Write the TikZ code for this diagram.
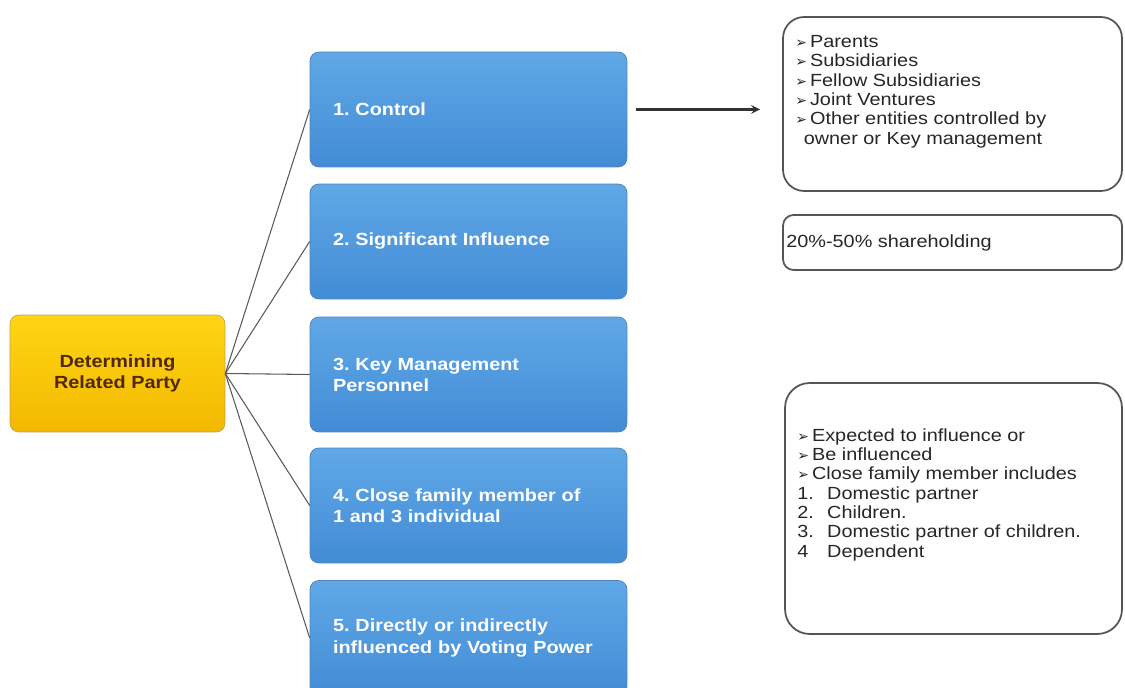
\documentclass[tikz,border=0pt]{standalone}
\usepackage{fontspec}
\setmainfont{Liberation Sans}[FakeStretch=1.13]
\newfontfamily\dingfont{DejaVu Sans}
\newcommand\arrbul{{\dingfont\footnotesize ➢}\,}
\newcommand\numitem[1]{\makebox[1.7em][l]{#1}}
\frenchspacing
\definecolor{coreline}{RGB}{196,160,80}
\definecolor{coretop}{RGB}{255,214,20}
\definecolor{corebot}{RGB}{242,184,0}
\definecolor{coretext}{RGB}{80,40,10}
\definecolor{typetop}{RGB}{96,168,230}
\definecolor{typebot}{RGB}{66,140,214}
\definecolor{typeline}{RGB}{80,130,185}
\definecolor{listline}{RGB}{85,85,85}

\begin{document}
\begin{tikzpicture}[x=0.02cm,y=-0.02cm,>=stealth,
    core/.style={draw=coreline,rounded corners=5pt,top color=coretop,bottom color=corebot,
      minimum width=4.3cm,minimum height=2.34cm,align=center,font=\bfseries,text=coretext},
    type/.style={draw=typeline,rounded corners=5pt,top color=typetop,bottom color=typebot,
      minimum width=6.34cm,minimum height=2.3cm,inner xsep=0.46cm,text width=5.42cm,
      align=left,font=\bfseries,text=white},
    listbox/.style={draw=listline,line width=1pt,fill=white,rounded corners=12pt},
    listtext/.style={anchor=north west,align=left,inner sep=0pt,text=black!85},
    link/.style={draw=black!65,line width=0.6pt},
    every node/.append style={font=\fontsize{10}{11}\selectfont}]
  \useasboundingbox (0,0) rectangle (1125,688);

  \node[core] (core) at (117.5,373.5) {Determining\\Related Party};

  \node[type] (t1) at (468.5,109.5) {1. Control};
  \node[type] (t2) at (468.5,241.5) {2. Significant Influence};
  \node[type] (t3) at (468.5,374.5) {3. Key Management\\Personnel};
  \node[type] (t4) at (468.5,505.5) {4. Close family member of\\1 and 3 individual};
  \node[type] (t5) at (468.5,638) {5. Directly or indirectly\\influenced by Voting Power};

  \foreach \i in {1,...,5}
    \draw[link] (core.east) -- (t\i.west);

  \node[listbox,minimum width=6.78cm,minimum height=3.48cm] (ctrlBox) at (952.5,104) {};
  \node[listtext] (ctrlList) at (795,35) {\arrbul Parents\\ \arrbul Subsidiaries\\ \arrbul Fellow  Subsidiaries\\
    \arrbul Joint Ventures\\ \arrbul Other entities controlled by\\ \ \,owner or Key management};

  \node[listbox,rounded corners=6pt,minimum width=6.78cm,minimum height=1.1cm] (sigBox) at (952.5,242.5) {};
  \node[listtext,anchor=west] (sigList) at (786,243) {20\%-50\% shareholding};

  \node[listbox,rounded corners=14pt,minimum width=6.74cm,minimum height=5.02cm] (famBox) at (953.5,508.5) {};
  \node[listtext] (famList) at (797,428) {\arrbul Expected to influence or\\ \arrbul Be influenced\\
    \arrbul Close family member includes\\ \numitem{1.}Domestic partner\\ \numitem{2.}Children.\\
    \numitem{3.}Domestic partner of children.\\ \numitem{4}Dependent};

  \coordinate (ctrlTip) at (760,109.5);
  \draw[link,black!80,line width=1.2pt,->,shorten <=5pt] (t1.east) -- (ctrlTip);
\end{tikzpicture}
\end{document}
